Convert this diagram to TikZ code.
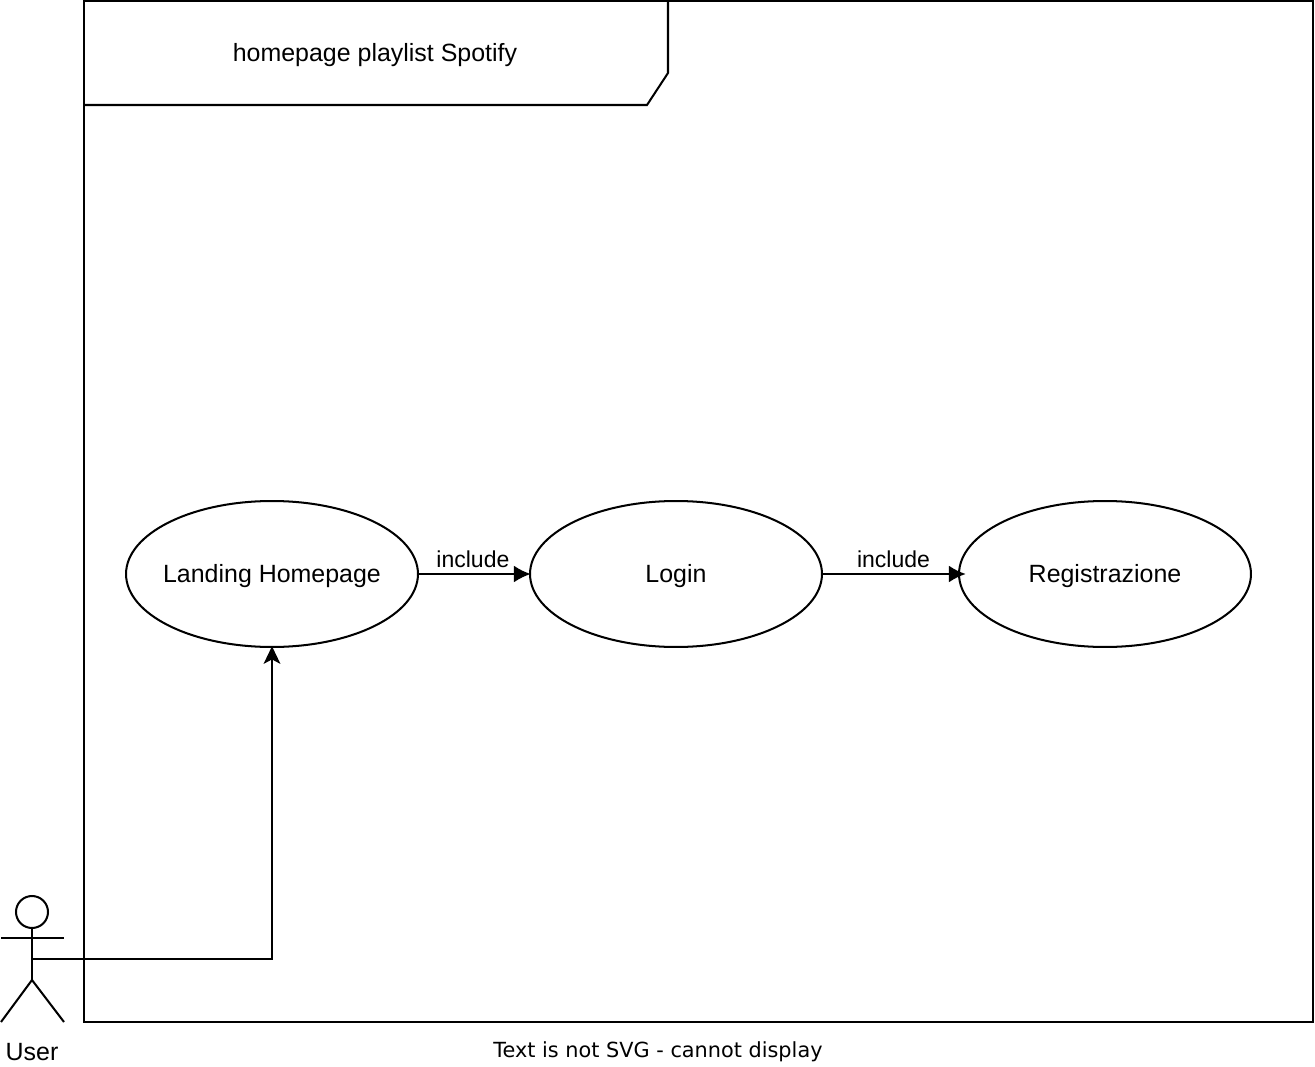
\documentclass[tikz,border=0pt]{standalone}
\usepackage{fontspec}
\setmainfont{Liberation Sans}
\newfontfamily\warnfont{DejaVu Sans}
\usetikzlibrary{arrows.meta,shapes.geometric}

\begin{document}
\begin{tikzpicture}[x=0.02cm,y=-0.02cm,line width=1.15pt,>={Latex[length=9.6pt,width=9.6pt]},
  usecase/.style={draw,ellipse,minimum width=5.84cm,minimum height=2.92cm,inner xsep=-1cm,inner ysep=0pt,
    text height=11pt,text depth=1.5pt,font=\fontsize{14.2}{17}\selectfont},
  edgelabel/.style={font=\fontsize{13.1}{15}\selectfont,inner sep=0pt},
  includearrow/.style={->,shorten >=-1pt},
  userarrow/.style={-{Stealth[length=10pt,width=9.5pt,inset=2.5pt]},shorten >=-1pt}]
  \useasboundingbox (0,0) rectangle (1315,1067);
  % frame
  \coordinate (frameNW) at (84,1);
  \coordinate (frameNE) at (1313,1);
  \coordinate (frameSE) at (1313,1022);
  \coordinate (frameSW) at (84,1022);
  \draw (frameNW)--(frameNE)--(frameSE)--(frameSW)--cycle;
  \coordinate (tabA) at (668,1);
  \coordinate (tabB) at (668,73);
  \coordinate (tabC) at (647,105);
  \coordinate (tabD) at (84,105);
  \draw (tabA)--(tabB)--(tabC)--(tabD);
  \node[font=\fontsize{14.2}{17}\selectfont] (title) at (375,55) {homepage playlist Spotify};
  % use cases
  \node[usecase] (landing) at (272,574) {Landing Homepage};
  \node[usecase] (login) at (676,574) {Login};
  \node[usecase] (reg) at (1105,574) {Registrazione};
  \coordinate (regTip) at (964,574);
  \draw[includearrow] (landing)--(login) node[edgelabel,pos=.49,above=3pt] (inc1) {include};
  \draw[includearrow] (login)--(regTip) node[edgelabel,pos=.5,above=3pt] (inc2) {include};
  % actor
  \node[draw,circle,minimum size=0.64cm,inner sep=0pt] (head) at (32,912) {};
  \coordinate (hip) at (32,980);
  \coordinate (armL) at (1,938);
  \coordinate (armR) at (64,938);
  \coordinate (footL) at (1,1022);
  \coordinate (footR) at (64,1022);
  \coordinate (waist) at (32,959);
  \draw (head)--(hip);
  \draw (armL)--(armR);
  \draw (footL)--(hip)--(footR);
  \node[font=\fontsize{14.2}{17}\selectfont] (user) at (32,1052) {User};
  \draw[userarrow] (waist)-|(landing);
  \node[font=\warnfont\fontsize{11.85}{14}\selectfont] (warn) at (658,1052) {Text is not SVG - cannot display};
\end{tikzpicture}
\end{document}
